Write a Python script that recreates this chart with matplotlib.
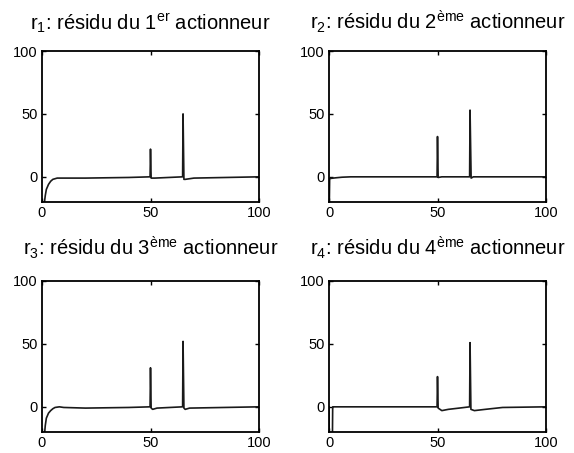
import matplotlib
matplotlib.use("Agg")
import matplotlib.pyplot as plt

plt.rcParams['font.family'] = ['Liberation Sans', 'DejaVu Sans']
plt.rcParams['mathtext.fontset'] = 'custom'
plt.rcParams['mathtext.rm'] = 'Liberation Sans'

# residual traces (time, value)
t1 = [0, 1, 1.5, 2, 3, 4, 5, 7, 10, 20, 40, 49.8, 50, 50.3, 52, 64.8, 65, 65.4, 66, 70, 100]
r1 = [-40, -22, -15, -10, -6, -3.5, -2, -1, -1, -1, -0.5, 0, 22, -1, -1, 0, 50, -2, -2, -1, 0]

t2 = [0, 0.3, 1, 3, 6, 10, 49.8, 50, 50.3, 52, 64.8, 65, 65.5, 66.5, 100]
r2 = [-40, -1.5, -1.2, -0.8, -0.3, 0, 0, 32, -0.5, 0, 0, 53, -1, 0, 0]

t3 = [0, 1, 1.5, 2, 3, 4, 5, 6, 8, 10, 20, 40, 49.8, 50, 50.3, 51, 53, 64.8, 65, 65.4, 66, 68, 100]
r3 = [-40, -25, -15, -9, -5, -3, -1.5, -0.5, 0, -0.5, -1, -0.5, 0, 31, -1, -2, -1, 0, 52, -1, -2, -1, 0]

t4 = [0, 0.2, 1.5, 1.7, 10, 49.8, 50, 50.3, 52, 55, 60, 64.8, 65, 65.4, 67, 72, 80, 100]
r4 = [0, -40, -40, 0, 0, 0, 24, -1, -3, -2, -1, 0, 51, -2, -3, -2, -0.5, 0]

titles = [
    r'r$_\mathregular{1}$: résidu du 1$^\mathregular{er}$ actionneur',
    r'r$_\mathregular{2}$: résidu du 2$^\mathregular{ème}$ actionneur',
    r'r$_\mathregular{3}$: résidu du 3$^\mathregular{ème}$ actionneur',
    r'r$_\mathregular{4}$: résidu du 4$^\mathregular{ème}$ actionneur',
]
series = [(t1, r1), (t2, r2), (t3, r3), (t4, r4)]

fig = plt.figure(figsize=(5.74, 4.53), dpi=100)
W, H = 574, 453
boxes = [(42, 51), (329, 51), (42, 281), (329, 281)]
pads = [15.5, 15.5, 18.5, 18.5]
aw, ah = 217, 151

for (x0, y0), (t, r), title, pad in zip(boxes, series, titles, pads):
    ax = fig.add_axes([x0 / W, 1 - (y0 + ah) / H, aw / W, ah / H])
    ax.plot(t, r, color='#1a1a1a', lw=1.2)
    ax.set_xlim(0, 100)
    ax.set_ylim(-20, 100)
    ax.set_xticks([0, 50, 100])
    ax.set_yticks([0, 50, 100])
    ax.tick_params(direction='in', length=3, width=1, top=True, right=True,
                   labelsize=10.5, pad=3)
    for s in ax.spines.values():
        s.set_linewidth(1.3)
    ax.set_title(title, fontsize=14.5, pad=pad)

fig.savefig('out.png', dpi=100)
